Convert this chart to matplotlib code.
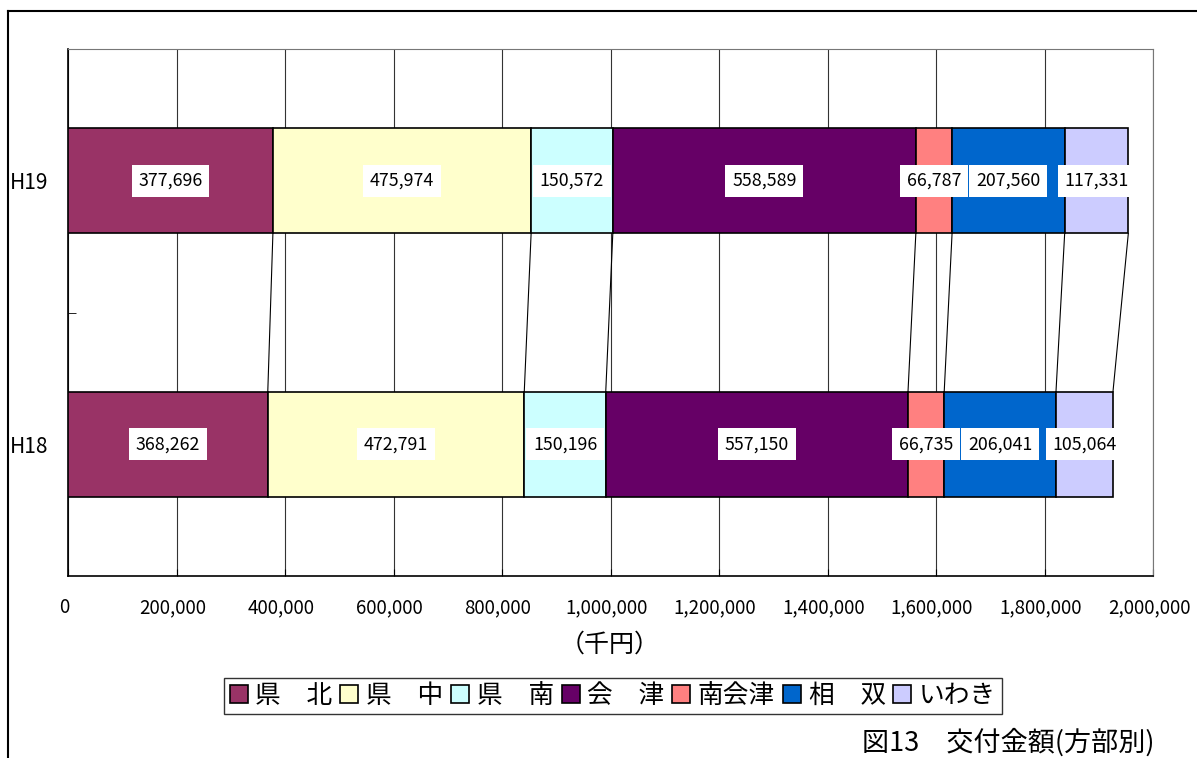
import numpy as np
import matplotlib
matplotlib.use('Agg')
import matplotlib.pyplot as plt
import matplotlib.transforms as mtransforms
from matplotlib.lines import Line2D
from matplotlib.ticker import FuncFormatter

plt.rcParams['font.family'] = ['Noto Sans CJK JP', 'DejaVu Sans']

# データ（千円）
years = ['H18', 'H19']
regions = ['県　北', '県　中', '県　南', '会　津', '南会津', '相　双', 'いわき']
h18 = [368262, 472791, 150196, 557150, 66735, 206041, 105064]
h19 = [377696, 475974, 150572, 558589, 66787, 207560, 117331]
colors = ['#993366', '#FFFFCC', '#CCFFFF', '#660066', '#FF8080', '#0066CC', '#CCCCFF']
xticks = np.arange(0, 2000001, 200000)

fig = plt.figure(figsize=(11.97, 7.58), dpi=100)
ax = fig.add_axes([68/1197, 1-576/758, (1153-68)/1197, (576-49)/758])

bar_h = 0.40
data = np.array([h18, h19])
left = np.zeros(2)
for i, name in enumerate(regions):
    vals = data[:, i]
    ax.barh([0, 1], vals, left=left, height=bar_h, color=colors[i],
            edgecolor='black', linewidth=1.2, label=name, zorder=3)
    for y, (l, v) in enumerate(zip(left, vals)):
        ax.text(l + v / 2, y, f'{v:,}', ha='center', va='center', fontsize=12.8,
                zorder=5, bbox=dict(boxstyle='square,pad=0.38', fc='white', ec='none'))
    left = left + vals

# 系列線
cum18 = np.cumsum(h18)
cum19 = np.cumsum(h19)
for a, b in zip(cum18, cum19):
    ax.plot([b, a], [1 - bar_h / 2, bar_h / 2], color='black', lw=0.8, zorder=2)

ax.set_xlim(0, 2000000)
ax.set_ylim(-0.5, 1.5)
ax.set_xticks(xticks)
ax.xaxis.set_major_formatter(FuncFormatter(lambda v, p: f'{int(v):,}'))
ax.tick_params(axis='x', direction='in', length=5, pad=15, labelsize=13.5)
shift = mtransforms.ScaledTranslation(-4/100, 0, fig.dpi_scale_trans)
for lab in ax.get_xticklabels():
    lab.set_transform(lab.get_transform() + shift)
ax.set_yticks([0, 1], years)
ax.tick_params(axis='y', length=0, pad=14, labelsize=15)
ax.set_yticks([0.5], minor=True)
ax.tick_params(axis='y', which='minor', direction='in', length=6)
ax.grid(axis='x', color='#333333', lw=0.8, zorder=1)
for s in ['left', 'bottom']:
    ax.spines[s].set_linewidth(1.2)
for s in ['top', 'right']:
    ax.spines[s].set_color('#777777')
    ax.spines[s].set_linewidth(0.8)

fig.text(610/1197, 1-645/758, '（千円）', ha='center', va='center', fontsize=18)

leg = fig.legend(loc='center', bbox_to_anchor=(613/1197, 1-696/758), ncol=7,
                 fontsize=18.5, frameon=True, fancybox=False, edgecolor='black',
                 handlelength=0.7, handleheight=0.7, handletextpad=0.3,
                 columnspacing=0.3, borderpad=0.2)
leg.get_frame().set_linewidth(1.0)

fig.text(1155/1197, 1-743/758, '図13　交付金額(方部別)', ha='right', va='center', fontsize=19.5)

# 外枠
fig.add_artist(Line2D([8/1197, 8/1197], [0, 1-11/758], color='black', lw=1.5))
fig.add_artist(Line2D([8/1197, 1], [1-11/758, 1-11/758], color='black', lw=1.5))

fig.savefig('out.png', dpi=100)
